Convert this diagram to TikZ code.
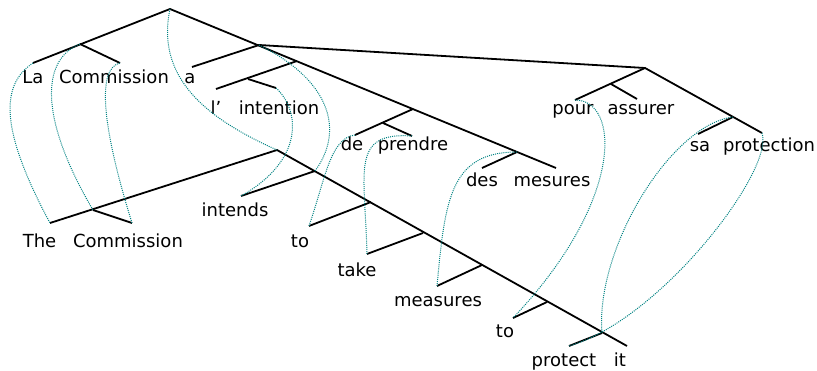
\documentclass[tikz,border=0pt]{standalone}
\usepackage{fontspec}
\setmainfont{DejaVu Sans}
\definecolor{linkc}{RGB}{0,130,130}
\begin{document}
\begin{tikzpicture}[x=1pt,y=-1pt,
  edge/.style={line width=1.8pt,black},
  link/.style={linkc,line width=1pt,dash pattern=on 1pt off 1.1pt},
  word/.style={anchor=base,inner sep=0pt,font=\fontsize{18}{21}\selectfont}]
\useasboundingbox (0,0) rectangle (817,371);
% ---------- French tree points
\coordinate (FR) at (170,9);
\coordinate (FNP) at (80,44);
\coordinate (Lae) at (33,63);
\coordinate (Come) at (120,63);
\coordinate (FX) at (259,45);
\coordinate (ae) at (192,67);
\coordinate (Fli) at (297,61);
\coordinate (Fnp) at (248,79);
\coordinate (le) at (216,89);
\coordinate (inte) at (276,88);
\coordinate (Fde) at (413,109);
\coordinate (Fdp) at (383,123);
\coordinate (dee) at (355,135);
\coordinate (pre) at (412,136);
\coordinate (Fdes) at (517,152);
\coordinate (dese) at (482,168);
\coordinate (mese) at (556,168);
\coordinate (Fpour) at (645,68);
\coordinate (Fpa) at (611,84);
\coordinate (poure) at (575,100);
\coordinate (asse) at (637,99);
\coordinate (Fsa) at (733,117);
\coordinate (sae) at (698,134);
\coordinate (prote) at (762,133);
% ---------- English tree points
\coordinate (ER) at (277,150);
\coordinate (ENP) at (93,210);
\coordinate (Thee) at (50,223);
\coordinate (Com2e) at (132,223);
\coordinate (Eint) at (315,171);
\coordinate (int2e) at (241,196);
\coordinate (Eto) at (371,202);
\coordinate (toe) at (309,226);
\coordinate (Etake) at (423,233);
\coordinate (takee) at (367,254);
\coordinate (Emeas) at (482,265);
\coordinate (mease) at (437,286);
\coordinate (Eto2) at (547,302);
\coordinate (to2e) at (513,318);
\coordinate (Eprot) at (602,333);
\coordinate (protecte) at (569,346);
\coordinate (ite) at (627,346);
% ---------- French words
\node[word] (wLa) at (33,83.3) {La};
\node[word] (wCom) at (114,83.3) {Commission};
\node[word] (wa) at (190,83.3) {a};
\node[word] (wl) at (216,115) {l’};
\node[word] (wint) at (279,115) {intention};
\node[word] (wde) at (352,151) {de};
\node[word] (wpr) at (413,151) {prendre};
\node[word] (wdes) at (482,186.7) {des};
\node[word] (wmes) at (552,186.7) {mesures};
\node[word] (wpour) at (573,115) {pour};
\node[word] (wass) at (641,115) {assurer};
\node[word] (wsa) at (700,151.7) {sa};
\node[word] (wprot) at (769,151.7) {protection};
% ---------- English words
\node[word] (wThe) at (39.5,247.7) {The};
\node[word] (wCom2) at (128,247.7) {Commission};
\node[word] (wints) at (235,216.7) {intends};
\node[word] (wto) at (300,247.7) {to};
\node[word] (wtake) at (357,276.7) {take};
\node[word] (wmeas) at (438,306.7) {measures};
\node[word] (wto2) at (505,337.7) {to};
\node[word] (wprotect) at (564,366.5) {protect};
\node[word] (wit) at (620,366.5) {it};
% ---------- French edges
\draw[edge] (Lae) -- (FR) -- (mese);
\draw[edge] (FNP) -- (Come);
\draw[edge] (ae) -- (FX) -- (Fpour);
\draw[edge] (Fli) -- (le);
\draw[edge] (Fnp) -- (inte);
\draw[edge] (Fde) -- (dee);
\draw[edge] (Fdp) -- (pre);
\draw[edge] (Fdes) -- (dese);
\draw[edge] (poure) -- (Fpour) -- (prote);
\draw[edge] (Fpa) -- (asse);
\draw[edge] (Fsa) -- (sae);
% ---------- English edges
\draw[edge] (Thee) -- (ER) -- (ite);
\draw[edge] (ENP) -- (Com2e);
\draw[edge] (Eint) -- (int2e);
\draw[edge] (Eto) -- (toe);
\draw[edge] (Etake) -- (takee);
\draw[edge] (Emeas) -- (mease);
\draw[edge] (Eto2) -- (to2e);
\draw[edge] (Eprot) -- (protecte);
% ---------- alignment links
\draw[link] (Lae) .. controls (0,85) and (0,130) .. (Thee);
\draw[link] (FNP) .. controls (40,60) and (40,120) .. (ENP);
\draw[link] (Come) .. controls (98,68) and (100,120) .. (Com2e);
\draw[link] (FR) .. controls (155,80) and (210,120) .. (ER);
\draw[link] (FX) .. controls (330,80) and (345,130) .. (Eint);
\draw[link] (inte) .. controls (300,110) and (305,160) .. (int2e);
\draw[link] (dee) .. controls (330,138) and (325,180) .. (toe);
\draw[link] (pre) .. controls (350,132) and (365,170) .. (takee);
\draw[link] (Fdes) .. controls (450,152) and (445,200) .. (mease);
\draw[link] (poure) .. controls (620,100) and (625,200) .. (to2e);
\draw[link] (Fsa) .. controls (670,125) and (595,250) .. (Eprot);
\draw[link] (prote) .. controls (775,170) and (660,320) .. (protecte);
\end{tikzpicture}
\end{document}
